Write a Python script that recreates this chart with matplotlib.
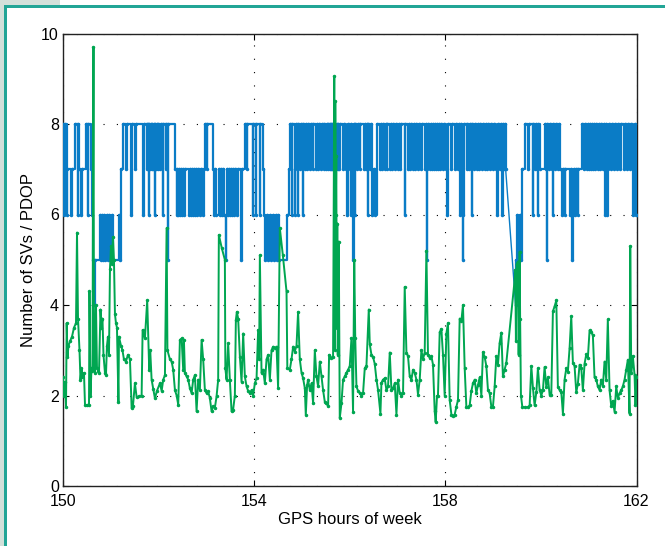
import matplotlib
matplotlib.use("Agg")
import matplotlib.pyplot as plt
from matplotlib.patches import Rectangle

plt.rcParams["font.family"] = ["Liberation Sans", "DejaVu Sans"]

COLOR_SV = "#0a7cc6"
COLOR_PDOP = "#00a651"
TEAL = "#22a596"

# number of SVs (value held until next change), before the data gap
sv_t1 = [150.000, 150.010, 150.031, 150.042, 150.084, 150.094, 150.167, 150.188, 150.251, 150.314,
         150.324, 150.345, 150.376, 150.397, 150.481, 150.523, 150.533, 150.585, 150.606, 150.627,
         150.648, 150.669, 150.774, 150.794, 150.815, 150.836, 150.857, 150.889, 150.920, 150.941,
         150.962, 150.983, 151.024, 151.045, 151.171, 151.192, 151.213, 151.254, 151.317, 151.338,
         151.422, 151.443, 151.505, 151.526, 151.673, 151.694, 151.756, 151.767, 151.777, 151.788,
         151.798, 151.809, 151.829, 151.840, 151.861, 151.871, 151.882, 151.903, 151.923, 151.934,
         151.944, 151.965, 151.986, 151.997, 152.028, 152.049, 152.091, 152.101, 152.153, 152.164,
         152.195, 152.206, 152.342, 152.383, 152.394, 152.415, 152.425, 152.446, 152.467, 152.488,
         152.509, 152.530, 152.551, 152.634, 152.655, 152.676, 152.697, 152.718, 152.739, 152.760,
         152.781, 152.802, 152.823, 152.864, 152.885, 152.927, 152.948, 152.969, 153.011, 153.021,
         153.136, 153.157, 153.178, 153.199, 153.262, 153.282, 153.303, 153.324, 153.345, 153.366,
         153.408, 153.418, 153.429, 153.450, 153.471, 153.492, 153.512, 153.533, 153.554, 153.575,
         153.596, 153.638, 153.659, 153.722, 153.742, 153.805, 153.847, 153.857, 153.972, 153.983,
         154.035, 154.045, 154.119, 154.129, 154.181, 154.202, 154.223, 154.265, 154.286, 154.328,
         154.349, 154.391, 154.411, 154.453, 154.474, 154.495, 154.516, 154.683, 154.725, 154.746,
         154.788, 154.798, 154.851, 154.861, 154.871, 154.913, 154.924, 154.955, 154.976, 155.018,
         155.028, 155.060, 155.081, 155.101, 155.122, 155.164, 155.185, 155.227, 155.237, 155.290,
         155.310, 155.331, 155.352, 155.394, 155.415, 155.457, 155.467, 155.499, 155.520, 155.540,
         155.551, 155.582, 155.593, 155.603, 155.614, 155.624, 155.635, 155.645, 155.666, 155.687,
         155.697, 155.708, 155.729, 155.750, 155.760, 155.771, 155.791, 155.854, 155.875, 155.917,
         155.938, 155.959, 156.000, 156.021, 156.032, 156.042, 156.063, 156.084, 156.105, 156.115,
         156.147, 156.168, 156.209, 156.220, 156.293, 156.314, 156.335, 156.356, 156.377, 156.387,
         156.419, 156.440, 156.460, 156.502, 156.523, 156.565, 156.628, 156.649, 156.669, 156.690,
         156.732, 156.753, 156.774, 156.784, 156.837, 156.858, 156.878, 156.899, 156.941, 156.962,
         157.004, 157.025, 157.046, 157.067, 157.150, 157.161, 157.213, 157.234, 157.255, 157.276,
         157.318, 157.338, 157.359, 157.380, 157.422, 157.443, 157.485, 157.506, 157.568, 157.589,
         157.610, 157.621, 157.631, 157.673, 157.694, 157.715, 157.736, 157.757, 157.778, 157.798,
         157.819, 157.840, 157.861, 157.882, 157.903, 157.945, 157.966, 158.008, 158.028, 158.049,
         158.112, 158.133, 158.196, 158.216, 158.258, 158.279, 158.300, 158.321, 158.342, 158.363,
         158.373, 158.384, 158.447, 158.457, 158.488, 158.509, 158.551, 158.561, 158.593, 158.614,
         158.656, 158.677, 158.697, 158.718, 158.760, 158.781, 158.823, 158.844, 158.865, 158.886,
         158.927, 158.948, 158.990, 159.011, 159.053, 159.074, 159.095, 159.136, 159.157, 159.178,
         159.199, 159.220, 159.241, 159.262]
sv_v1 = [7, 8, 6, 8, 6, 7, 6, 7, 8, 6,
         8, 7, 6, 7, 8, 6, 8, 7, 6, 5,
         4, 5, 6, 5, 6, 5, 6, 5, 6, 5,
         6, 5, 6, 5, 6, 5, 7, 8, 7, 8,
         6, 8, 7, 8, 6, 8, 7, 8, 7, 8,
         6, 8, 7, 8, 7, 8, 7, 8, 6, 8,
         7, 8, 7, 8, 7, 8, 6, 8, 7, 8,
         5, 8, 7, 6, 7, 6, 7, 6, 7, 6,
         7, 6, 7, 6, 7, 6, 7, 6, 7, 6,
         7, 6, 7, 6, 7, 6, 7, 8, 7, 8,
         7, 6, 7, 6, 7, 6, 7, 6, 7, 6,
         5, 6, 7, 6, 7, 6, 7, 6, 7, 6,
         7, 6, 7, 5, 7, 8, 7, 8, 6, 8,
         6, 8, 6, 8, 7, 6, 5, 6, 5, 6,
         5, 6, 5, 6, 5, 6, 5, 6, 7, 8,
         6, 8, 6, 7, 8, 6, 8, 7, 8, 6,
         8, 7, 8, 7, 8, 7, 8, 7, 8, 7,
         8, 7, 8, 7, 8, 7, 8, 7, 8, 7,
         8, 7, 8, 7, 8, 7, 8, 7, 8, 7,
         8, 7, 8, 7, 8, 7, 8, 7, 8, 7,
         6, 8, 7, 6, 8, 7, 5, 8, 6, 8,
         7, 8, 7, 8, 7, 8, 7, 8, 6, 8,
         7, 8, 6, 7, 6, 8, 7, 8, 7, 8,
         7, 8, 7, 8, 7, 8, 7, 8, 7, 8,
         7, 8, 7, 8, 6, 8, 7, 8, 7, 8,
         7, 8, 7, 8, 7, 8, 7, 8, 7, 8,
         5, 7, 8, 7, 8, 7, 8, 7, 8, 7,
         8, 7, 8, 7, 8, 7, 8, 7, 6, 8,
         7, 8, 7, 8, 7, 8, 6, 8, 7, 5,
         6, 8, 7, 8, 7, 8, 6, 8, 7, 8,
         7, 8, 7, 8, 7, 8, 7, 8, 7, 8,
         7, 8, 7, 8, 7, 6, 8, 7, 8, 6,
         8, 7, 8, 7]

# number of SVs after the data gap
sv_t2 = [159.471, 159.481, 159.492, 159.513, 159.555, 159.575, 159.596, 159.659, 159.722, 159.743,
         159.826, 159.837, 159.868, 159.889, 159.910, 159.931, 159.942, 159.973, 160.077, 160.098,
         160.119, 160.130, 160.161, 160.182, 160.224, 160.245, 160.255, 160.286, 160.307, 160.349,
         160.370, 160.391, 160.433, 160.454, 160.496, 160.506, 160.600, 160.621, 160.642, 160.663,
         160.684, 160.704, 160.725, 160.767, 160.778, 160.851, 160.893, 160.914, 160.956, 160.976,
         160.997, 161.018, 161.039, 161.060, 161.081, 161.102, 161.123, 161.144, 161.185, 161.206,
         161.227, 161.248, 161.290, 161.311, 161.332, 161.353, 161.374, 161.395, 161.416, 161.457,
         161.478, 161.520, 161.541, 161.583, 161.604, 161.645, 161.666, 161.729, 161.750, 161.792,
         161.813, 161.855, 161.875, 161.917, 161.938, 161.959, 161.980, 162.000]
sv_v2 = [4, 5, 6, 5, 6, 5, 7, 8, 7, 8,
         6, 8, 7, 8, 7, 6, 8, 7, 8, 7,
         5, 8, 7, 8, 7, 6, 8, 7, 8, 7,
         8, 7, 6, 7, 6, 7, 6, 7, 5, 6,
         7, 6, 7, 6, 7, 8, 7, 8, 7, 8,
         7, 8, 7, 8, 7, 8, 7, 8, 7, 8,
         7, 8, 7, 8, 6, 8, 6, 7, 8, 7,
         8, 7, 8, 7, 8, 7, 8, 7, 8, 7,
         8, 7, 8, 6, 7, 8, 6, 6]

# PDOP
pdop_t = [150.000, 150.021, 150.042, 150.063, 150.077, 150.094, 150.115, 150.146, 150.188, 150.230,
          150.272, 150.293, 150.314, 150.345, 150.366, 150.387, 150.408, 150.439, 150.460, 150.502,
          150.544, 150.554, 150.575, 150.596, 150.617, 150.638, 150.648, 150.669, 150.690, 150.711,
          150.732, 150.753, 150.784, 150.805, 150.826, 150.847, 150.878, 150.899, 150.920, 150.941,
          150.962, 150.983, 151.004, 151.024, 151.045, 151.066, 151.087, 151.108, 151.129, 151.160,
          151.171, 151.213, 151.244, 151.275, 151.317, 151.359, 151.401, 151.436, 151.463, 151.505,
          151.541, 151.589, 151.645, 151.666, 151.714, 151.762, 151.804, 151.825, 151.854, 151.888,
          151.923, 151.965, 152.028, 152.064, 152.097, 152.133, 152.168, 152.185, 152.237, 152.273,
          152.306, 152.342, 152.377, 152.411, 152.446, 152.482, 152.515, 152.530, 152.551, 152.586,
          152.620, 152.655, 152.691, 152.724, 152.760, 152.795, 152.829, 152.864, 152.900, 152.933,
          152.969, 153.004, 153.038, 153.073, 153.109, 153.142, 153.178, 153.213, 153.247, 153.261,
          153.324, 153.387, 153.397, 153.422, 153.456, 153.491, 153.527, 153.560, 153.596, 153.617,
          153.638, 153.665, 153.701, 153.736, 153.770, 153.805, 153.841, 153.874, 153.910, 153.945,
          153.979, 154.014, 154.050, 154.083, 154.104, 154.119, 154.154, 154.188, 154.223, 154.259,
          154.292, 154.328, 154.363, 154.397, 154.432, 154.468, 154.501, 154.537, 154.600, 154.677,
          154.694, 154.746, 154.781, 154.815, 154.850, 154.886, 154.919, 154.955, 154.991, 155.024,
          155.060, 155.080, 155.108, 155.128, 155.164, 155.200, 155.233, 155.269, 155.304, 155.338,
          155.373, 155.409, 155.442, 155.478, 155.513, 155.547, 155.568, 155.618, 155.651, 155.676,
          155.687, 155.697, 155.708, 155.718, 155.729, 155.739, 155.749, 155.770, 155.791, 155.827,
          155.860, 155.896, 155.931, 155.965, 156.000, 156.036, 156.069, 156.094, 156.115, 156.140,
          156.174, 156.209, 156.245, 156.278, 156.314, 156.349, 156.398, 156.419, 156.454, 156.488,
          156.523, 156.559, 156.592, 156.642, 156.663, 156.696, 156.732, 156.767, 156.801, 156.837,
          156.872, 156.906, 156.941, 156.977, 157.010, 157.046, 157.081, 157.115, 157.150, 157.186,
          157.219, 157.255, 157.290, 157.324, 157.359, 157.395, 157.428, 157.464, 157.499, 157.533,
          157.568, 157.604, 157.637, 157.673, 157.708, 157.742, 157.777, 157.798, 157.826, 157.846,
          157.882, 157.917, 157.951, 157.986, 158.022, 158.055, 158.091, 158.127, 158.160, 158.196,
          158.231, 158.265, 158.300, 158.336, 158.369, 158.405, 158.440, 158.474, 158.509, 158.545,
          158.578, 158.614, 158.649, 158.683, 158.718, 158.754, 158.787, 158.823, 158.858, 158.892,
          158.927, 158.963, 158.996, 159.032, 159.067, 159.101, 159.136, 159.172, 159.205, 159.241,
          159.276, 159.450, 159.464, 159.477, 159.492, 159.519, 159.534, 159.555, 159.565, 159.582,
          159.611, 159.659, 159.722, 159.764, 159.799, 159.833, 159.868, 159.904, 159.937, 159.973,
          160.008, 160.042, 160.077, 160.113, 160.146, 160.182, 160.217, 160.251, 160.286, 160.322,
          160.355, 160.391, 160.426, 160.460, 160.495, 160.531, 160.564, 160.600, 160.635, 160.669,
          160.704, 160.740, 160.773, 160.809, 160.845, 160.878, 160.913, 160.949, 160.982, 161.018,
          161.053, 161.087, 161.122, 161.158, 161.191, 161.227, 161.262, 161.296, 161.331, 161.367,
          161.400, 161.436, 161.471, 161.505, 161.541, 161.576, 161.610, 161.645, 161.681, 161.714,
          161.750, 161.785, 161.819, 161.854, 161.869, 161.890, 161.923, 161.959, 161.979, 162.000]
pdop_v = [2.4, 2.0, 2.3, 1.75, 3.6, 2.85, 3.1, 3.2, 3.3, 3.5,
          3.6, 5.6, 3.7, 3.0, 2.35, 2.6, 2.4, 2.5, 1.8, 1.78,
          1.8, 4.3, 2.0, 2.6, 2.55, 9.7, 2.6, 2.5, 4.0, 2.6,
          2.55, 2.5, 3.9, 3.5, 3.7, 2.9, 2.5, 2.45, 3.1, 3.3,
          2.9, 4.8, 5.3, 4.9, 5.5, 5.0, 3.8, 3.6, 3.5, 1.85,
          3.3, 3.1, 3.0, 2.8, 2.75, 2.9, 2.8, 1.72, 1.76, 2.27,
          1.96, 1.98, 2.0, 3.45, 3.26, 4.1, 2.57, 3.0, 2.35, 2.15,
          1.94, 2.1, 2.27, 2.1, 2.35, 2.45, 5.7, 3.0, 2.8, 2.75,
          2.57, 2.12, 2.0, 1.8, 3.23, 3.26, 2.57, 3.23, 2.5, 2.42,
          2.35, 2.16, 2.05, 2.35, 2.45, 1.65, 2.35, 2.12, 3.23, 2.8,
          2.12, 2.05, 2.09, 1.94, 1.65, 1.76, 1.73, 1.98, 2.35, 5.55,
          5.25, 5.0, 2.6, 2.35, 3.15, 2.35, 1.65, 1.69, 2.0, 3.67,
          3.85, 3.7, 2.86, 2.3, 3.37, 2.42, 2.2, 2.1, 2.05, 2.12,
          2.0, 2.27, 2.38, 3.45, 2.8, 5.1, 2.5, 2.57, 2.27, 2.8,
          2.9, 2.35, 3.0, 3.08, 3.05, 3.08, 2.16, 5.7, 5.1, 4.3,
          2.6, 2.57, 2.8, 3.08, 2.97, 3.1, 3.85, 2.8, 2.5, 2.38,
          2.16, 1.57, 2.23, 2.35, 2.12, 2.27, 1.83, 3.0, 2.42, 2.2,
          2.75, 2.42, 2.12, 1.86, 1.83, 1.76, 2.9, 2.83, 2.86, 9.05,
          3.0, 8.5, 6.0, 7.3, 3.5, 5.8, 2.9, 5.4, 1.5, 1.83,
          2.35, 2.42, 2.5, 2.57, 2.65, 3.27, 1.64, 5.0, 3.27, 2.2,
          2.1, 2.05, 2.0, 2.05, 2.6, 2.65, 3.9, 3.13, 2.9, 2.85,
          2.7, 2.35, 2.12, 1.6, 2.28, 2.35, 2.38, 2.12, 2.2, 2.95,
          2.12, 2.16, 2.27, 1.58, 2.35, 2.05, 2.0, 2.05, 4.4, 2.95,
          2.87, 2.42, 2.35, 2.57, 2.5, 2.35, 2.02, 2.35, 3.0, 2.8,
          2.95, 5.2, 2.9, 2.83, 2.87, 2.68, 1.66, 1.41, 1.99, 2.0,
          3.4, 3.47, 2.9, 2.0, 3.37, 3.6, 1.9, 1.58, 1.55, 1.58,
          1.75, 1.9, 3.7, 3.65, 4.0, 2.6, 1.75, 1.75, 1.78, 2.1,
          2.27, 2.35, 2.05, 2.23, 2.4, 2.0, 2.96, 2.85, 2.65, 2.12,
          2.05, 1.75, 1.75, 2.2, 2.87, 2.68, 3.16, 3.39, 2.42, 2.57,
          2.72, 4.55, 4.78, 3.2, 4.9, 4.96, 2.9, 5.18, 3.7, 2.0,
          1.75, 1.74, 1.74, 1.78, 2.65, 2.17, 1.78, 2.07, 2.6, 2.12,
          2.0, 2.12, 2.63, 2.19, 2.4, 2.02, 2.02, 3.86, 3.97, 4.1,
          2.19, 2.12, 2.08, 1.6, 2.35, 2.6, 2.53, 3.05, 3.75, 2.72,
          2.65, 2.07, 2.26, 2.68, 2.6, 2.12, 2.7, 2.91, 2.83, 3.44,
          3.4, 3.33, 2.4, 2.35, 2.2, 2.12, 2.35, 2.2, 2.75, 2.35,
          3.68, 2.12, 1.77, 1.88, 1.64, 2.2, 1.94, 2.05, 2.12, 2.2,
          2.35, 2.57, 2.79, 1.6, 5.3, 2.5, 2.87, 2.46, 1.78, 2.4]

x_ticks = [150, 154, 158, 162]
y_ticks = [0, 2, 4, 6, 8, 10]

fig = plt.figure(figsize=(6.65, 5.46), dpi=100, facecolor="white")

# frame of the original slide: light strip on the left/top and a teal rule
fig.patches.append(Rectangle((0, 0), 4 / 665, 1, transform=fig.transFigure,
                             facecolor="#d3e0da", edgecolor="none", zorder=0))
fig.patches.append(Rectangle((4 / 665, 0), 2.5 / 665, 1 - 5 / 546, transform=fig.transFigure,
                             facecolor=TEAL, edgecolor="none", zorder=1))
fig.patches.append(Rectangle((0, 1 - 5 / 546), 60 / 665, 5 / 546, transform=fig.transFigure,
                             facecolor="#d3e0da", edgecolor="none", zorder=0))
fig.patches.append(Rectangle((4 / 665, 1 - 7.5 / 546), 1, 2.5 / 546, transform=fig.transFigure,
                             facecolor=TEAL, edgecolor="none", zorder=1))

ax = fig.add_axes([63 / 665, 60 / 546, 573.5 / 665, 452.5 / 546])

ax.plot(sv_t1, sv_v1, drawstyle="steps-post", color=COLOR_SV, lw=1.6,
        marker=".", ms=3, zorder=3)
ax.plot(sv_t2, sv_v2, drawstyle="steps-post", color=COLOR_SV, lw=1.6,
        marker=".", ms=3, zorder=3)
ax.plot([sv_t1[-1], sv_t2[0]], [sv_v1[-1], sv_v2[0]], color=COLOR_SV, lw=1.0, zorder=3)
ax.plot(pdop_t, pdop_v, color=COLOR_PDOP, lw=1.4, marker=".", ms=3, zorder=4)

ax.set_xlim(150, 162)
ax.set_ylim(0, 10)
ax.set_xticks(x_ticks)
ax.set_yticks(y_ticks)
ax.grid(True, color="black", linestyle=(0, (1, 11)), linewidth=0.8)
ax.set_axisbelow(True)
ax.tick_params(direction="in", length=4, width=0.8, top=True, right=True,
               labelsize=11.5, colors="black")
ax.tick_params(axis="x", pad=6)
ax.tick_params(axis="y", pad=3)
for s in ax.spines.values():
    s.set_linewidth(1.0)
    s.set_color("#222222")

ax.set_xlabel("GPS hours of week", fontsize=12, labelpad=2)
ax.set_ylabel("Number of SVs / PDOP", fontsize=12, labelpad=4)

fig.savefig("out.png", dpi=100, facecolor=fig.get_facecolor())
